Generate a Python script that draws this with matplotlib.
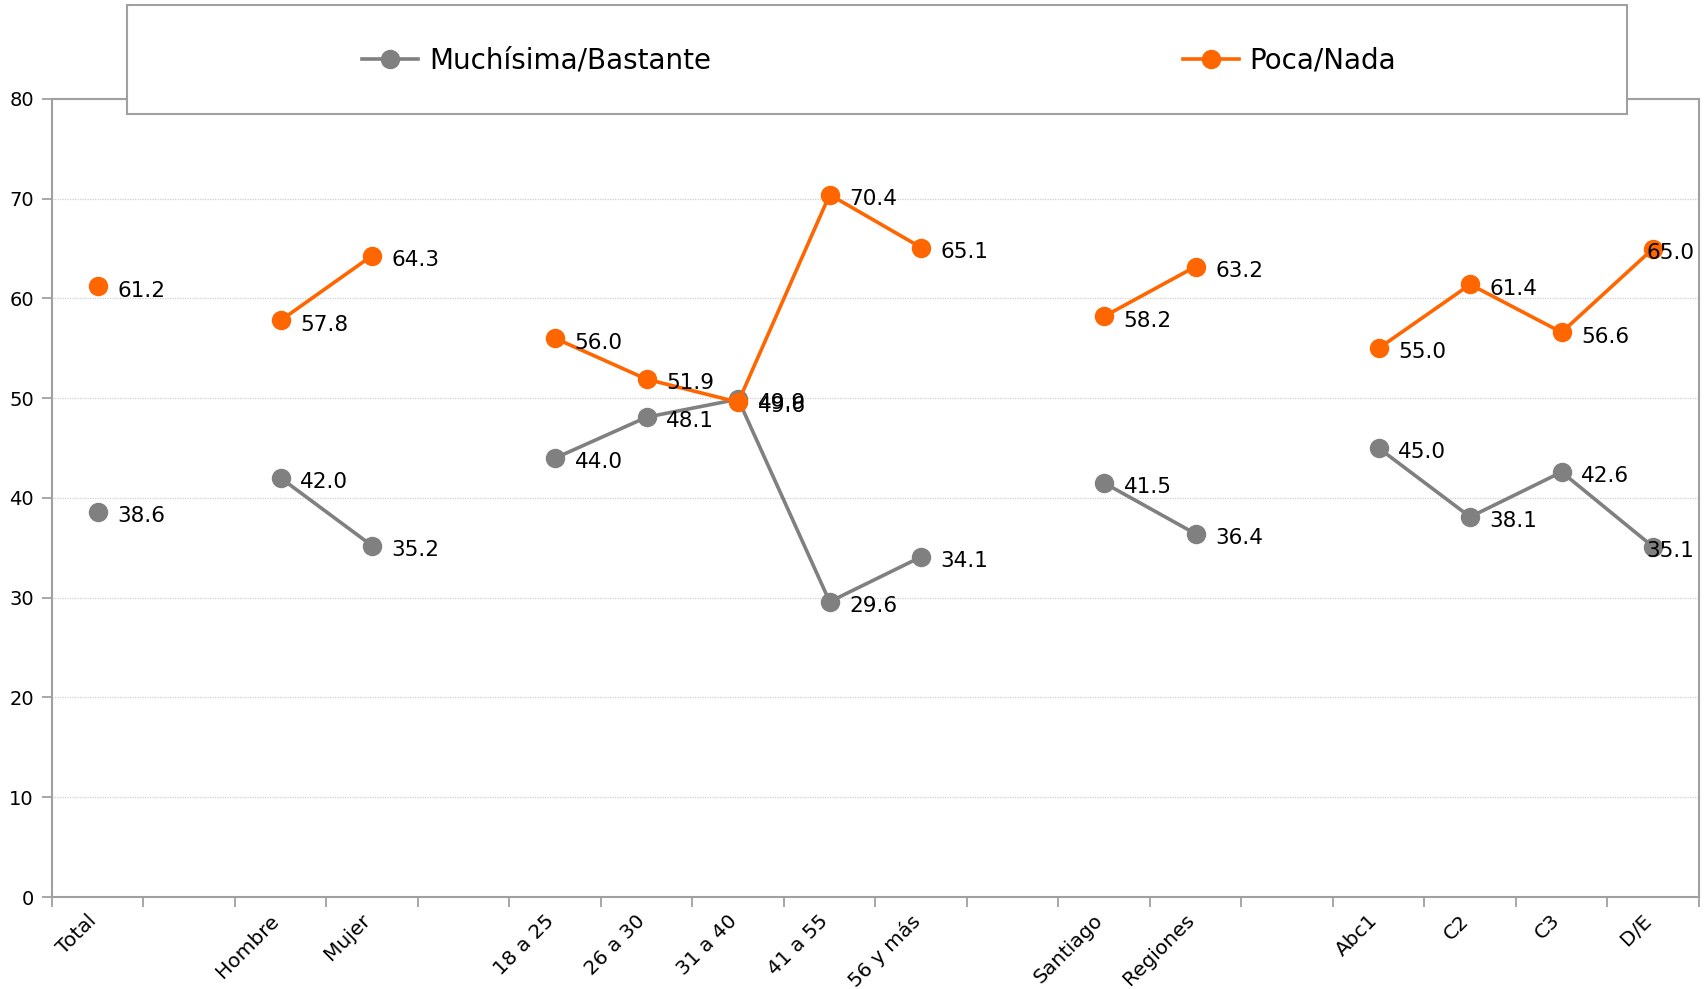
import matplotlib
matplotlib.use("Agg")
import matplotlib.pyplot as plt
from matplotlib.patches import Rectangle
from matplotlib.transforms import ScaledTranslation
import numpy as np

categories = ["Total", "", "Hombre", "Mujer", "", "18 a 25", "26 a 30", "31 a 40",
              "41 a 55", "56 y más", "", "Santiago", "Regiones", "", "Abc1", "C2", "C3", "D/E"]
mucha = [38.6, None, 42.0, 35.2, None, 44.0, 48.1, 49.9, 29.6, 34.1, None,
         41.5, 36.4, None, 45.0, 38.1, 42.6, 35.1]
poca = [61.2, None, 57.8, 64.3, None, 56.0, 51.9, 49.6, 70.4, 65.1, None,
        58.2, 63.2, None, 55.0, 61.4, 56.6, 65.0]
series_names = ["Muchísima/Bastante", "Poca/Nada"]
colors = ["#808080", "#FF6600"]
yticks = [0, 10, 20, 30, 40, 50, 60, 70, 80]

plt.rcParams['font.family'] = ['DejaVu Sans']

fig = plt.figure(figsize=(17.04, 9.89), dpi=100)
ax = fig.add_axes([0.0305, 0.093, 0.9665, 0.807])

x = np.arange(len(categories))
handles = []
for vals, name, col in zip([mucha, poca], series_names, colors):
    y = np.array([np.nan if v is None else v for v in vals], dtype=float)
    h, = ax.plot(x, y, color=col, lw=2.6, marker='o', markersize=13,
                 markeredgecolor=col, label=name, zorder=3)
    handles.append(h)
    for xi, v in zip(x, vals):
        if v is None:
            continue
        dx = 14 if xi < len(categories) - 1 else -5
        ax.annotate(f"{v:.1f}", (xi, v), xytext=(dx, -3), textcoords='offset points',
                    ha='left', va='center', fontsize=15.5, color='black', zorder=4)

ax.set_xlim(-0.5, len(categories) - 0.5)
ax.set_ylim(0, 80)
ax.set_yticks(yticks)
ax.set_yticklabels([str(t) for t in yticks], fontsize=14)
ax.tick_params(axis='y', direction='out', length=7, color='#a0a0a0', width=1.3, pad=6)

ax.set_xticks(x)
ax.set_xticklabels(categories, rotation=45, ha='right', va='top',
                   rotation_mode='anchor', fontsize=14.5)
ax.tick_params(axis='x', which='major', length=0, pad=10)
shift = ScaledTranslation(-8 / 72, 0, fig.dpi_scale_trans)
for lbl in ax.get_xticklabels():
    lbl.set_transform(lbl.get_transform() + shift)
ax.set_xticks(np.arange(-0.5, len(categories), 1.0), minor=True)
ax.tick_params(axis='x', which='minor', direction='out', length=7, color='#a0a0a0', width=1.3)

for s in ax.spines.values():
    s.set_color('#a0a0a0')
    s.set_linewidth(1.5)

ax.grid(axis='y', color='#cfcfcf', lw=0.9, linestyle=(0, (1, 1)))
ax.set_axisbelow(True)

# legend box
rect = Rectangle((0.0745, 0.8847), 0.8805, 0.1103, transform=fig.transFigure,
                 facecolor='white', edgecolor='#a0a0a0', lw=1.5, zorder=5)
fig.add_artist(rect)
leg = fig.legend(handles=handles, loc='center', bbox_to_anchor=(0.516, 0.939),
                 ncol=2, frameon=False, fontsize=20, handlelength=2.0,
                 handletextpad=0.4, columnspacing=17)
leg.set_zorder(6)

fig.savefig("out.png", dpi=100)
